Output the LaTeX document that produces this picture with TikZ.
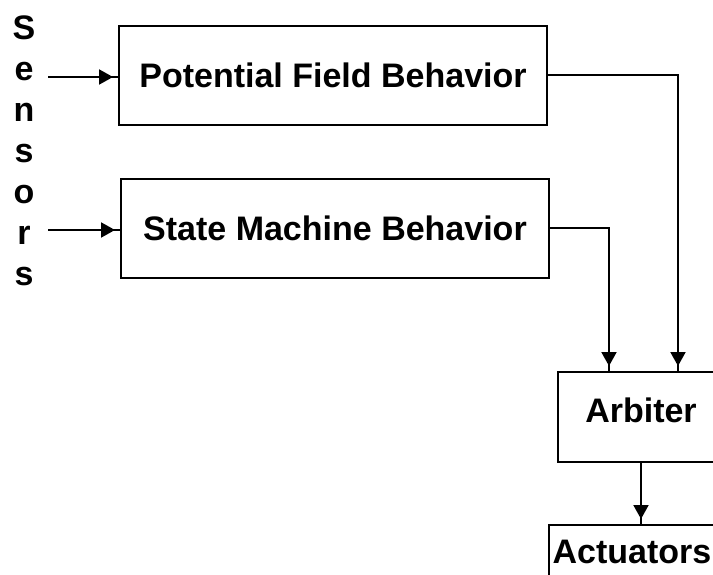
\documentclass[tikz,border=0pt]{standalone}
\usepackage{fontspec}
\setmainfont{Liberation Sans}
\usetikzlibrary{calc}
\usetikzlibrary{positioning}
\usetikzlibrary{arrows.meta}
\usetikzlibrary{decorations.markings}
\def\labelfont{\bfseries\fontsize{34}{41}\selectfont}
\tikzset{
thickness/.style={line width=2pt},
tipmark/.style={
	decoration={
		markings,
		mark=at position {-5pt} with {
			\arrow{Triangle[width=15pt,length=14pt]};
		}
	}, thickness,
	postaction={decorate}
},
block/.style 2 args={draw,thickness,minimum width=#1,minimum height=#2,inner sep=0pt,font=\labelfont},
}

\begin{document}
\begin{tikzpicture}[x=1pt,y=-1pt]
\useasboundingbox (0,0) rectangle (713,575);
\clip (0,0) rectangle (713,575);
%Place the nodes
\node[font=\labelfont, align=center] (sens) at (24,151) {S\\e\\n\\s\\o\\r\\s};
\node[block={428pt}{99pt}] (pfb) at (333,75.5) {Potential Field Behavior};
\node[block={428pt}{99pt}] (smb) at (335,228.5) {State Machine Behavior};
\node[block={166pt}{90pt}, text depth=14pt] (arb) at (641,417) {Arbiter};
\node[block={166pt}{54pt}] (act) at (632,552) {Actuators};

\coordinate (s1) at (48,77);
\coordinate (s2) at (48,230);

%Connect them
\draw[tipmark] (s1) -- (s1 -| pfb.west);
\draw[tipmark] (s2) -- (s2 -| smb.west);

\draw[tipmark] (pfb.east) -| ([xshift=37pt]arb.north);
\draw[tipmark] (smb.east) -| ([xshift=-32pt]arb.north);

\draw[tipmark] (arb.south) -- (arb.south |- act.north);

\end{tikzpicture}
\end{document}
